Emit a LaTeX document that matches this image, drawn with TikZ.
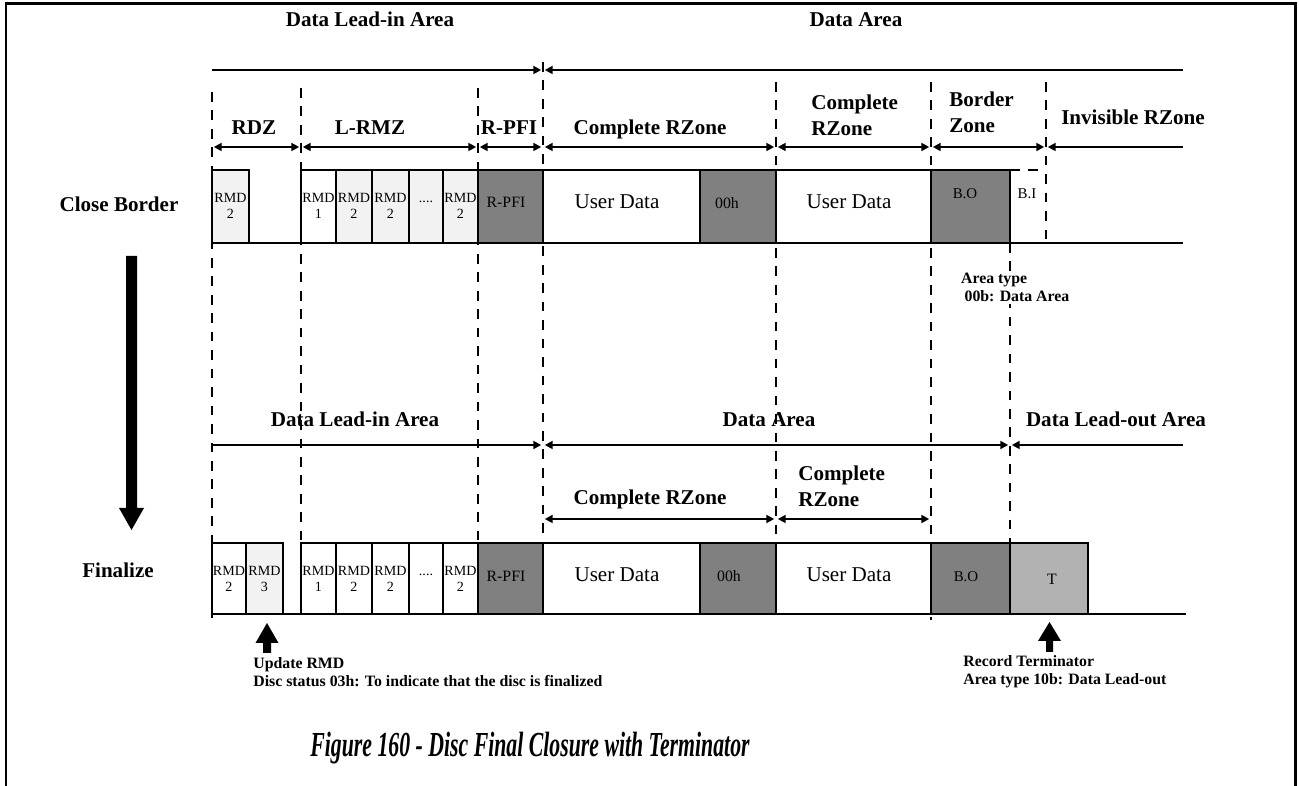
\documentclass[tikz,border=0pt]{standalone}
\usepackage{fontspec}
\setmainfont{Liberation Serif}
\usepackage{tikz}
\usetikzlibrary{arrows.meta, positioning, calc}
\definecolor{rmdgray}{RGB}{242,242,242}
\definecolor{zonegray}{RGB}{128,128,128}
\definecolor{termgray}{RGB}{178,178,178}

\begin{document}
\begin{tikzpicture}[x=0.02cm, y=-0.02cm,
  >={Triangle[length=4.5pt,width=4.5pt]},
  divider/.style={line width=1.1pt, dash pattern=on 5.5pt off 5pt},
  dimline/.style={line width=1.1pt},
  seg/.style={draw, line width=1.1pt},
  zonelabel/.style={font=\bfseries\fontsize{12}{15}\selectfont, anchor=base, inner sep=0pt},
  rmdcell/.style={font=\fontsize{8}{9}\selectfont, align=center, inner sep=0pt},
  celltext/.style={font=\fontsize{9}{10}\selectfont, anchor=base, inner sep=0pt},
  datatext/.style={font=\fontsize{12}{14}\selectfont, anchor=base, inner sep=0pt},
  note/.style={font=\bfseries\fontsize{9}{10.8}\selectfont, align=left, anchor=base west, inner sep=0pt}]

\useasboundingbox (0,0) rectangle (1299,786);

% Frame
\draw[line width=1.7pt] (6,790) -- (6,4) -- (1295,4) -- (1295,790);

% Zone dividers
\foreach \x/\ya/\yb in {212/92/622, 301/88/540, 478/88/540, 543/62/540,
                        776/82/543, 931/82/620, 1046/82/243, 1010/243/543}
    \draw[divider] (\x,\ya) -- (\x,\yb);

% Arrow ends
\foreach \n/\x in {a/212, b/301, c/478, d/543, e/776, f/931, g/1046, i/1010, h/1183} {
    \coordinate (top\n) at (\x,70);
    \coordinate (sub\n) at (\x,147);
    \coordinate (fin\n) at (\x,445);
    \coordinate (rz\n) at (\x,519);
}

% Close Border: area arrows
\draw[dimline, ->, shorten >=1pt] (topa) -- (topd);
\draw[dimline, <-, shorten <=1pt] (topd) -- (toph);
\foreach \p/\q in {a/b, b/c, c/d, d/e, e/f, f/g}
    \draw[dimline, <->, shorten <=1pt, shorten >=1pt] (sub\p) -- (sub\q);
\draw[dimline, <-, shorten <=1pt] (subg) -- (subh);

% Finalize: area arrows
\draw[dimline, ->, shorten >=1pt] (fina) -- (find);
\draw[dimline, <->, shorten <=1pt, shorten >=1pt] (find) -- (fini);
\draw[dimline, <-, shorten <=1pt] (fini) -- (finh);
\draw[dimline, <->, shorten <=1pt, shorten >=1pt] (rzd) -- (rze);
\draw[dimline, <->, shorten <=1pt, shorten >=1pt] (rze) -- (rzf);

% Zone labels
\node[zonelabel] (leadin) at (370,27) {Data Lead-in Area};
\node[zonelabel] (dataarea) at (856,27) {Data Area};
\node[zonelabel] (rdz) at (254,135) {RDZ};
\node[zonelabel] (lrmz) at (370,135) {L-RMZ};
\node[zonelabel] (rpfi) at (509,135) {R-PFI};
\node[zonelabel] (crzA) at (650,135) {Complete RZone};
\node[zonelabel, align=left, anchor=base west] (crzB) at (811,136) {Complete\\RZone};
\node[zonelabel, align=left, anchor=base west] (border) at (949,133) {Border\\Zone};
\node[zonelabel] (invisible) at (1133,125) {Invisible RZone};

\node[zonelabel] (leadin2) at (355,427) {Data Lead-in Area};
\node[zonelabel] (dataarea2) at (769,427) {Data Area};
\node[zonelabel] (leadout) at (1116,427) {Data Lead-out Area};
\node[zonelabel] (crzC) at (650,505) {Complete RZone};
\node[zonelabel, align=left, anchor=base west] (crzD) at (798,507) {Complete\\RZone};

\node[zonelabel] (close) at (119,212) {Close Border};
\node[zonelabel] (finalize) at (118,578) {Finalize};

% Close Border bar
\foreach \xa/\xb/\col/\num [count=\k] in {212/249/rmdgray/2, 301/336/white/1,
        336/372/rmdgray/2, 372/409/rmdgray/2, 443/478/rmdgray/2} {
    \draw[seg, fill=\col] (\xa,170) rectangle (\xb,243);
    \node[rmdcell] (rmdA\k) at ({(\xa+\xb)/2},206) {RMD\\\num};
}
\draw[seg, fill=rmdgray] (409,170) rectangle (443,243);
\node[celltext, font=\fontsize{8}{9}\selectfont] (dotsA) at (426,203) {....};
\foreach \xa/\xb/\col in {478/543/zonegray, 543/700/white, 700/776/zonegray,
        776/931/white, 931/1010/zonegray}
    \draw[seg, fill=\col] (\xa,170) rectangle (\xb,243);
\draw[divider] (1010,170) -- (1046,170);
\draw[seg] (212,243) -- (1183,243);
\node[celltext] (pfiA) at (506,208) {R-PFI};
\node[datatext] (userA) at (617,209) {User Data};
\node[celltext] (zeroA) at (727,209) {00h};
\node[datatext] (userB) at (849,209) {User Data};
\node[celltext, font=\fontsize{8.5}{10}\selectfont] (boA) at (965,199) {B.O};
\node[celltext, font=\fontsize{8.5}{10}\selectfont] (biA) at (1027,199) {B.I};

% Finalize bar
\foreach \xa/\xb/\col/\num [count=\k] in {212/246/white/2, 246/283/rmdgray/3,
        301/336/white/1, 336/372/white/2, 372/409/white/2, 443/478/white/2} {
    \draw[seg, fill=\col] (\xa,543) rectangle (\xb,614);
    \node[rmdcell] (rmdB\k) at ({(\xa+\xb)/2},579) {RMD\\\num};
}
\draw[seg, fill=white] (409,543) rectangle (443,614);
\node[celltext, font=\fontsize{8}{9}\selectfont] (dotsB) at (426,576) {....};
\foreach \xa/\xb/\col in {478/543/zonegray, 543/700/white, 700/776/zonegray,
        776/931/white, 931/1010/zonegray, 1010/1088/termgray}
    \draw[seg, fill=\col] (\xa,543) rectangle (\xb,614);
\draw[seg] (212,614) -- (1186,614);
\node[celltext] (pfiB) at (506,582) {R-PFI};
\node[datatext] (userC) at (617,582) {User Data};
\node[celltext] (zeroB) at (729,582) {00h};
\node[datatext] (userD) at (849,582) {User Data};
\node[celltext, font=\fontsize{8.5}{10}\selectfont] (boB) at (966,582) {B.O};
\node[celltext] (term) at (1052,585) {T};

% Notes
\node[note, fill=white, inner sep=1pt] (areatype) at (959,302) {Area type\\\hspace{2pt}00b: Data Area};
\node[note] (update) at (253,687) {Update RMD\\Disc status 03h: To indicate that the disc is finalized};
\node[note] (record) at (963,685) {Record Terminator\\Area type 10b: Data Lead-out};

% Block arrows
\fill (126,256) -- (137,256) -- (137,508) -- (144,508) -- (131.5,530) -- (119,508) -- (126,508) -- cycle;
\fill (263,653) -- (271,653) -- (271,643) -- (278.5,643) -- (267,623) -- (255.5,643) -- (263,643) -- cycle;
\fill (1046,652) -- (1053,652) -- (1053,641) -- (1061,641) -- (1049.5,622) -- (1038,641) -- (1046,641) -- cycle;

% Title
\node[font=\bfseries\itshape\fontsize{20}{24}\selectfont, xscale=0.62, anchor=base] (title) at (530,757) {Figure 160 - Disc Final Closure with Terminator};

\end{tikzpicture}
\end{document}
